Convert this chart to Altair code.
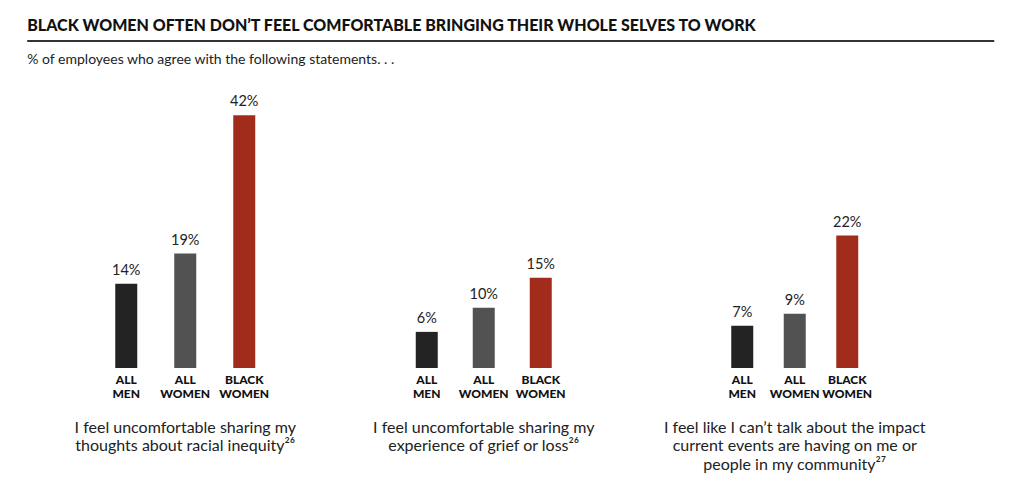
import altair as alt
import pandas as pd

TITLE = "BLACK WOMEN OFTEN DON’T FEEL COMFORTABLE BRINGING THEIR WHOLE SELVES TO WORK"
SUBTITLE = "% of employees who agree with the following statements. . ."

categories = ["ALL MEN", "ALL WOMEN", "BLACK WOMEN"]
colors = ["#232323", "#525252", "#a22c1b"]

values_racial = [14, 19, 42]
values_grief = [6, 10, 15]
values_events = [7, 9, 22]

caption_racial = ["I feel uncomfortable sharing my", "thoughts about racial inequity²⁶"]
caption_grief = ["I feel uncomfortable sharing my", "experience of grief or loss²⁶"]
caption_events = ["I feel like I can’t talk about the impact",
                  "current events are having on me or",
                  "people in my community²⁷"]

FONT = "Lato"


def panel(values, caption, width, pad_inner):
    df = pd.DataFrame({
        "group": categories,
        "value": values,
        "label": [f"{v}%" for v in values],
    })
    base = alt.Chart(df).encode(
        x=alt.X(
            "group:N",
            sort=categories,
            scale=alt.Scale(paddingInner=pad_inner, paddingOuter=1),
            axis=alt.Axis(
                title=None, domain=False, ticks=False, labelAngle=0,
                labelExpr="split(datum.label, ' ')",
                labelFont=FONT, labelFontWeight=900, labelFontSize=12,
                labelLineHeight=14.5, labelColor="#111111", labelPadding=6,
            ),
        )
    )
    bars = base.mark_bar(size=22).encode(
        y=alt.Y("value:Q", scale=alt.Scale(domain=[0, 48]), axis=None),
        color=alt.Color("group:N", scale=alt.Scale(domain=categories, range=colors), legend=None),
    )
    text = base.mark_text(
        baseline="alphabetic", dy=-9, font=FONT, fontSize=14.5, color="#222222"
    ).encode(
        y=alt.Y("value:Q", scale=alt.Scale(domain=[0, 48]), axis=None),
        text="label:N",
    )
    return alt.layer(bars, text).properties(
        width=width,
        height=289,
        title=alt.TitleParams(
            text=caption, orient="bottom", anchor="middle", font=FONT,
            fontSize=16, fontWeight="normal", color="#222222", lineHeight=18.5,
            offset=20,
        ),
    )


hdr_df = pd.DataFrame({"title": [TITLE], "subtitle": [SUBTITLE]})
title_mark = alt.Chart(hdr_df).mark_text(
    align="left", baseline="alphabetic", font=FONT, fontWeight=900,
    fontSize=16, color="#111111"
).encode(x=alt.value(-39.75), y=alt.value(31), text="title:N")
rule = alt.Chart(hdr_df).mark_rule(color="#333333", strokeWidth=2).encode(
    x=alt.value(-39.75), x2=alt.value(927.25), y=alt.value(41)
)
sub_mark = alt.Chart(hdr_df).mark_text(
    align="left", baseline="alphabetic", font=FONT, fontSize=14, color="#222222"
).encode(x=alt.value(-39.75), y=alt.value(64), text="subtitle:N")
header = alt.layer(title_mark, rule, sub_mark).properties(width=900, height=79)

p1 = panel(values_racial, caption_racial, 236.5, 0.9915)
p2 = panel(values_grief, caption_grief, 285, 0)
p3 = panel(values_events, caption_events, 262.5, 0)

chart = alt.vconcat(
    header,
    alt.hconcat(p1, p2, p3, spacing=37.25, bounds="flush"),
    spacing=0,
    bounds="flush",
).properties(
    padding={"left": 26, "top": 0, "right": 0, "bottom": 0},
    background="white",
).configure_view(stroke=None)

chart.save("out.html", embed_options={"renderer": "svg", "actions": False})
